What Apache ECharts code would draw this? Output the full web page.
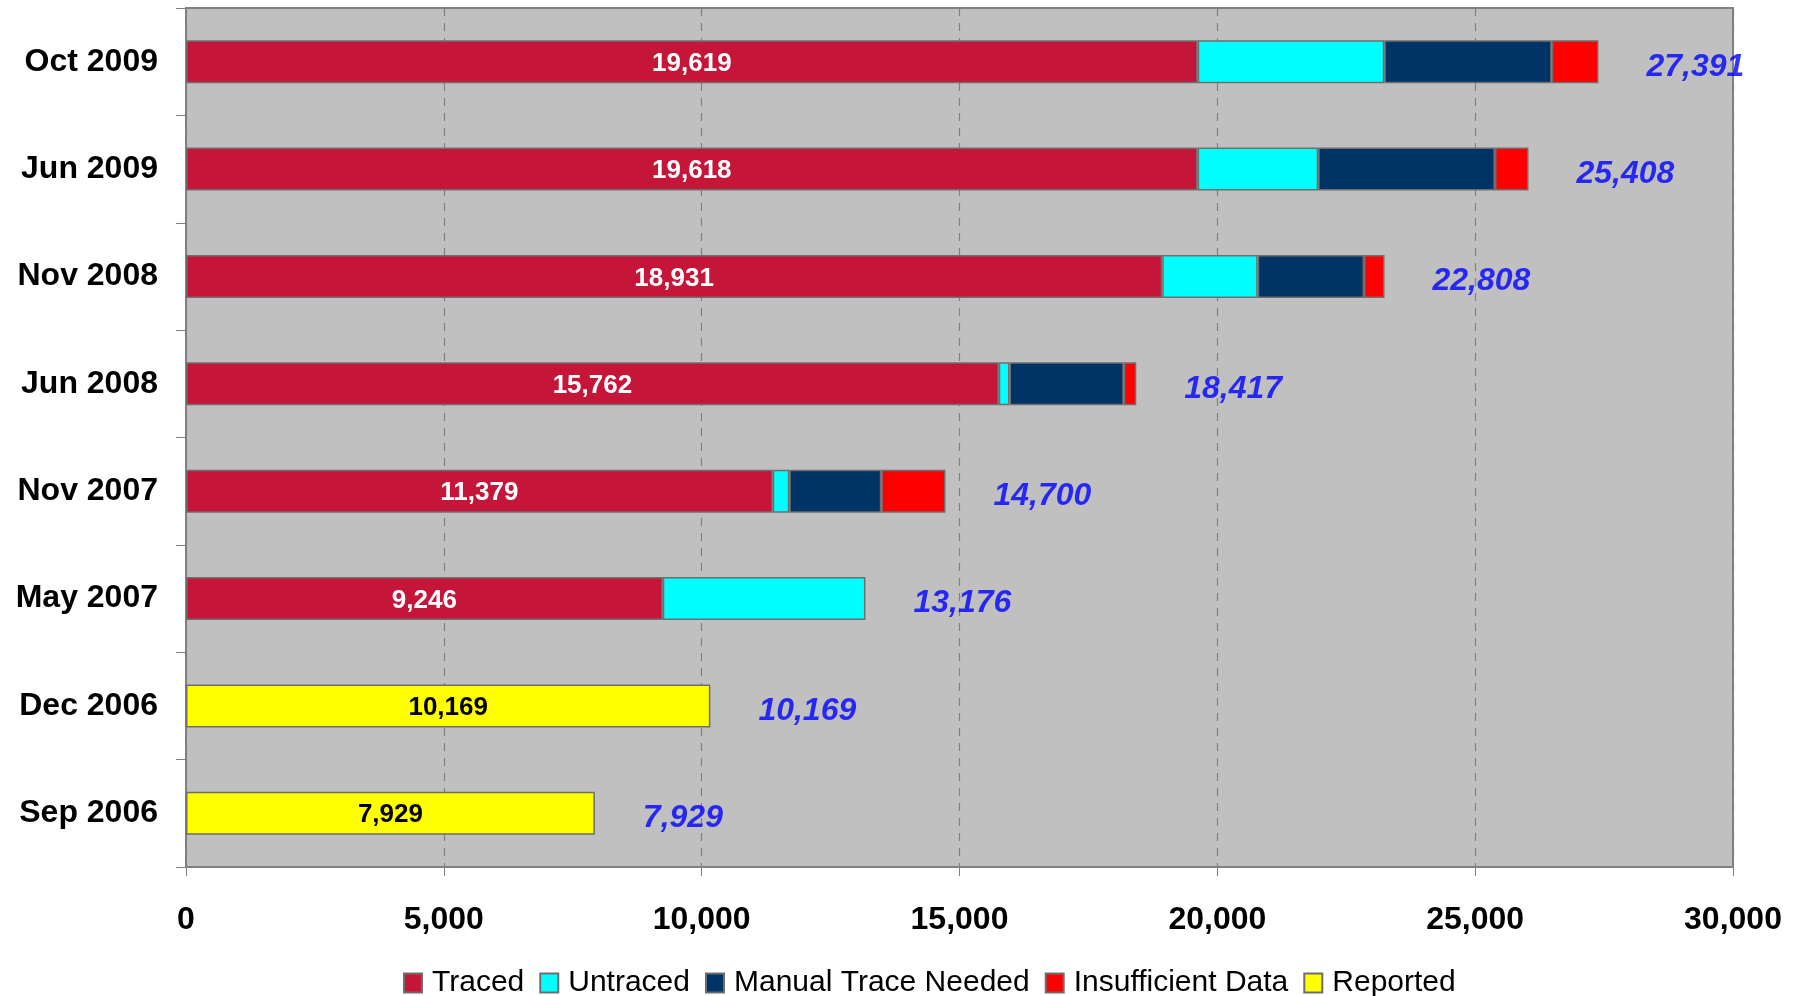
<!DOCTYPE html>
<html>
<head>
<meta charset="utf-8">
<script src="https://cdn.jsdelivr.net/npm/echarts@6/dist/echarts.min.js"></script>
<style>
html,body{margin:0;padding:0;background:#fff;}
#chart{width:1800px;height:996px;}
</style>
</head>
<body>
<div id="chart"></div>
<script>
// Data (bottom -> top)
const categories = ['Sep 2006','Dec 2006','May 2007','Nov 2007','Jun 2008','Nov 2008','Jun 2009','Oct 2009'];
const traced       = [null, null, 9246, 11379, 15762, 18931, 19618, 19619];
const untraced     = [null, null, 3930,   320,   207,  1852,  2338,  3619];
const manualTrace  = [null, null, null,  1784,  2217,  2061,  3428,  3246];
const insufficient = [null, null, null,  1245,   242,   398,   650,   907];
const reported     = [7929, 10169, null, null, null, null, null, null];
const totalLabels  = [7929, 10169, 13176, 14700, 18417, 22808, 25408, 27391];
const xTicks = { min: 0, max: 30000, step: 5000 };

const FONT = '"Liberation Sans", Arial, sans-serif';
const fmt = v => String(Math.round(v)).replace(/\B(?=(\d{3})+(?!\d))/g, ',');

const barEnds = categories.map((c, i) =>
  [traced, untraced, manualTrace, insufficient, reported]
    .reduce((s, arr) => s + (arr[i] || 0), 0));

const baseBar = (name, data, color, label) => ({
  name, type: 'bar', stack: 'all', data, barWidth: '40%',
  itemStyle: { color, borderColor: '#6e6e6e', borderWidth: 1.5 },
  label: label || { show: false },
  emphasis: { disabled: true }
});

const chart = echarts.init(document.getElementById('chart'), null, { renderer: 'canvas' });
chart.setOption({
  animation: false,
  backgroundColor: '#ffffff',
  grid: {
    left: 186, right: 67, top: 8, bottom: 129,
    show: true, backgroundColor: '#C0C0C0', borderColor: '#808080', borderWidth: 2
  },
  legend: {
    data: ['Traced', 'Untraced', 'Manual Trace Needed', 'Insufficient Data', 'Reported'],
    left: 398, top: 963,
    icon: 'rect', itemWidth: 18, itemHeight: 19, itemGap: 15,
    textStyle: { fontFamily: FONT, fontSize: 30, color: '#000', padding: [0, 0, 0, 5] }
  },
  xAxis: {
    type: 'value', min: xTicks.min, max: xTicks.max, interval: xTicks.step,
    axisLine: { show: true, lineStyle: { color: '#808080', width: 2 } },
    axisTick: { show: true, length: 9, lineStyle: { color: '#808080' } },
    axisLabel: {
      margin: 37, formatter: v => fmt(v),
      fontFamily: FONT, fontSize: 32, fontWeight: 'bold', color: '#000'
    },
    splitLine: { show: true, lineStyle: { color: '#808080', type: [8, 7], width: 1.2 } }
  },
  yAxis: {
    type: 'category', data: categories,
    axisLine: { show: true, lineStyle: { color: '#808080', width: 2 } },
    axisTick: { show: true, length: 10, lineStyle: { color: '#808080' } },
    axisLabel: { margin: 28, fontFamily: FONT, fontSize: 32, fontWeight: 'bold', color: '#000',
                 padding: [9, 0, 0, 0] },
    splitLine: { show: false }
  },
  series: [
    baseBar('Traced', traced, '#C5163A', {
      show: true, position: 'inside', formatter: p => fmt(p.value), offset: [0, 2],
      fontFamily: FONT, fontSize: 26, fontWeight: 'bold', color: '#fff'
    }),
    baseBar('Untraced', untraced, '#00FFFF'),
    baseBar('Manual Trace Needed', manualTrace, '#003366'),
    baseBar('Insufficient Data', insufficient, '#FF0000'),
    baseBar('Reported', reported, '#FFFF00', {
      show: true, position: 'inside', formatter: p => fmt(p.value), offset: [0, 2],
      fontFamily: FONT, fontSize: 26, fontWeight: 'bold', color: '#000'
    }),
    {
      name: 'Total', type: 'scatter', symbolSize: 0, silent: true,
      data: categories.map((c, i) => [barEnds[i], i]),
      label: {
        show: true, position: 'right', distance: 48, offset: [0, 5],
        formatter: p => fmt(totalLabels[p.dataIndex]),
        fontFamily: FONT, fontSize: 32, fontWeight: 'bold', fontStyle: 'italic', color: '#0000FF'
      },
      z: 10
    }
  ]
});
</script>
</body>
</html>
